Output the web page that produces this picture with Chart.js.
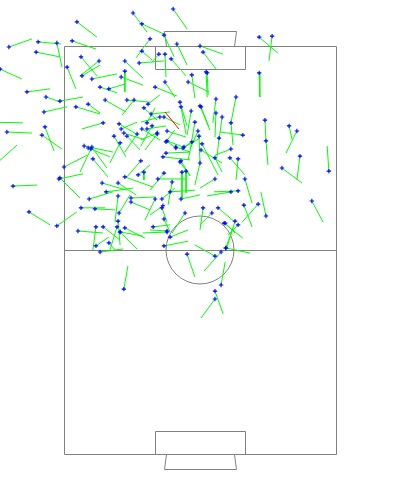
<!DOCTYPE html>
<html>
<head>
<meta charset="utf-8">
<script src="https://cdn.jsdelivr.net/npm/chart.js@4/dist/chart.umd.min.js"></script>
<style>
html,body{margin:0;padding:0;background:#fff;}
#wrap{width:400px;height:500px;position:relative;}
</style>
</head>
<body>
<div id="wrap"><canvas id="c"></canvas></div>
<script>
// Pitch coordinates: x across (0-80), y along (0 = bottom goal line, 120 = top goal line)
const passStartX = [20.3,32.1,22.9,3.8,29.4,33.2,40.0,57.4,61.2,25.3,2.4,-7.6,-2.1,-16.2,-8.2,-18.8,-10.9,-5.3,-1.2,-5.9,-21.2,-16.8,-5.6,-6.5,-20.0,0.0,-1.5,-15.0,-10.3,-2.1,-1.2,
22.9,27.9,29.7,31.5,40.9,57.4,41.8,37.6,42.1,36.5,29.7,26.8,44.7,50.6,5.0,10.3,17.9,22.1,0.9,17.9,16.8,5.3,8.2,10.6,13.2,7.1,3.5,12.1,18.5,20.6,24.7,23.5,25.6,29.4,34.1,34.4,40.3,37.4,40.0,44.7,46.5,38.5,
49.1,52.6,59.1,59.4,66.2,68.5,69.4,64.1,77.9,72.9,45.6,49.1,48.8,51.2,44.4,53.2,51.2,49.1,57.1,52.9,59.4,40.9,43.5,45.3,50.3,51.2,47.1,47.6,
11.5,16.2,14.7,16.5,16.8,17.6,18.5,21.5,22.9,24.4,25.9,24.4,27.4,30.3,32.9,35.0,37.6,39.7,30.0,29.1,34.1,5.9,7.1,8.2,7.9,8.5,22.6,23.5,29.4,17.9,11.2,15.9,27.6,31.8,34.7,35.9,12.4,7.4,15.9,19.7,19.7,26.8,28.8,31.2,34.4,5.0,9.1,16.2,28.8,29.1,35.6,
15.9,29.4,26.2,30.3,4.1,9.4,11.5,15.6,17.9,13.2,9.4,10.6,16.5,16.5,30.3,31.2,29.4,44.4,46.2,47.6,36.2,17.6,46.2,44.4,44.4,30.0,32.9,35.3,40.3,40.6,40.0,44.4,34.4,47.4,21.8,30.3,27.4,39.4,28.2];
const passStartY = [129.7,130.9,126.5,127.1,123.2,120.6,120.0,122.6,122.9,122.1,121.5,121.2,120.9,119.7,118.2,113.2,106.5,105.0,103.8,100.6,97.6,94.7,96.2,93.8,85.3,84.4,80.9,78.8,71.2,67.1,81.2,
118.5,117.6,117.6,116.2,118.2,112.1,112.4,111.5,112.1,109.4,109.4,107.9,104.4,105.0,116.8,115.6,115.6,115.0,113.8,112.6,110.9,111.2,110.3,107.9,107.4,102.9,102.1,104.1,104.1,104.1,102.9,101.8,100.0,99.1,103.5,102.1,102.1,100.9,102.4,100.3,99.1,97.6,
97.4,93.8,98.2,92.1,96.5,95.0,87.6,84.1,83.2,74.4,92.9,89.7,87.1,86.8,80.9,80.9,77.4,77.1,73.5,73.2,70.0,72.4,70.9,72.4,68.5,67.4,67.9,60.6,
97.4,97.1,93.5,91.5,95.6,94.4,93.5,94.1,95.6,97.4,96.5,95.6,94.1,92.1,90.0,90.0,91.8,93.5,88.5,87.4,85.9,90.6,90.0,90.3,89.7,86.8,86.2,82.9,82.6,81.5,79.7,79.7,80.9,80.0,82.9,83.2,77.1,75.0,75.9,75.3,74.1,75.0,75.0,77.1,75.0,72.4,72.1,70.9,72.4,73.0,70.9,
68.5,69.1,66.8,65.6,65.6,66.8,66.8,66.8,66.5,62.1,61.2,59.4,65.3,65.3,65.3,63.8,61.2,58.2,59.4,60.6,58.8,48.5,49.7,47.9,45.6,91.8,90.3,90.3,89.4,91.2,85.6,87.1,86.2,67.9,82.1,95.0,94.4,95.0,99.1];
const passEndX = [24.4,36.2,29.4,9.7,32.4,36.2,46.8,62.9,60.3,21.2,9.4,-0.9,-0.6,-9.4,-1.2,-12.4,-4.1,-0.9,5.6,0.9,-12.1,-9.4,-2.9,-0.6,-13.8,6.8,5.6,-7.9,-4.1,3.8,4.7,
25.9,25.9,30.0,35.9,45.0,57.6,42.1,38.5,42.4,42.6,32.6,33.2,43.8,49.1,9.7,4.7,23.2,29.4,3.5,17.9,23.2,10.6,15.6,15.6,17.9,10.6,10.6,18.2,25.3,17.1,28.2,27.4,31.2,34.1,36.2,35.9,42.6,36.2,42.9,44.4,45.6,37.6,
49.7,45.9,59.4,60.0,67.1,65.3,68.5,70.0,77.4,76.2,45.0,44.4,53.2,50.6,40.0,55.3,44.1,42.1,52.4,55.3,57.9,40.0,40.0,50.3,47.9,48.2,52.6,49.7,
5.3,21.8,18.2,13.5,21.5,23.8,22.4,17.9,28.2,26.8,22.6,30.0,23.8,35.0,29.7,40.0,36.5,40.0,37.1,37.1,37.1,14.4,13.5,12.6,4.7,12.9,18.5,23.5,25.3,26.2,18.5,21.2,35.6,30.6,34.7,35.9,20.3,14.4,15.0,26.8,25.3,23.8,32.6,38.5,40.0,12.1,15.0,19.4,30.3,25.3,31.8,
16.5,31.2,31.2,25.3,11.5,8.5,16.5,13.5,23.8,15.0,13.2,17.4,21.5,23.2,23.2,36.5,36.5,38.5,41.2,54.7,38.5,18.8,47.4,46.8,40.3,32.6,37.1,38.5,46.5,45.3,38.5,46.5,37.1,50.3,25.3,35.9,22.6,37.1,22.6];
const passEndY = [124.1,125.0,123.5,122.6,116.8,114.4,117.6,117.9,115.6,116.5,119.1,120.6,113.8,122.1,116.8,110.3,107.4,103.5,105.0,102.1,97.4,94.4,89.1,89.7,90.9,87.9,82.4,79.1,67.4,71.2,75.3,
115.9,115.3,110.9,111.2,112.9,105.0,105.0,104.7,105.6,106.5,105.0,105.3,97.4,97.4,111.2,111.2,110.6,115.6,107.4,106.5,108.5,114.4,111.8,106.2,108.8,100.3,100.0,100.6,103.5,99.7,105.6,98.2,100.6,96.8,96.5,94.1,96.2,93.8,95.3,93.2,92.4,92.4,
90.9,94.7,92.4,85.0,92.4,88.5,80.6,79.7,90.6,68.2,87.4,87.9,82.1,80.6,78.2,73.8,77.1,75.9,68.2,66.8,77.1,65.9,67.4,68.2,60.6,64.4,63.5,66.5,
95.6,93.8,87.4,85.6,97.6,92.4,89.4,88.8,92.4,101.8,90.6,96.5,89.4,90.3,92.4,92.9,86.5,85.9,88.8,86.5,81.8,88.8,87.4,84.1,82.9,81.5,81.5,80.6,77.6,78.5,77.6,76.2,80.9,73.2,75.3,76.8,78.2,77.1,68.2,75.6,71.8,68.8,78.2,77.6,76.2,72.4,71.8,76.2,68.2,70.3,65.0,
61.5,65.3,67.4,65.9,65.0,60.0,62.9,60.0,63.5,60.0,63.8,60.3,60.3,64.1,65.0,65.9,62.6,61.5,53.8,59.1,52.1,55.3,56.5,41.2,40.0,95.3,88.8,92.4,85.6,82.1,79.1,82.9,81.8,65.0,85.0,93.2,92.4,89.7,97.6];

// highlighted (red) pass
const redStartX = [29.7];
const redStartY = [100.6];
const redEndX = [33.8];
const redEndY = [95.6];

// pitch dimensions (units)
const PITCH_W = 80, PITCH_L = 120;
const BOX_X0 = 26.8, BOX_X1 = 53.2, BOX_D = 6.8;
const GOAL_X0 = 30, GOAL_X1 = 50, GOAL_BX0 = 29.4, GOAL_BX1 = 50.6, GOAL_D = 4.4;
const CIRCLE_R = 10;

const linePts = [];
const markerPts = [];
for (let i = 0; i < passStartX.length; i++) {
  linePts.push({x: passStartX[i], y: passStartY[i]});
  linePts.push({x: passEndX[i], y: passEndY[i]});
  linePts.push({x: passEndX[i], y: null});
  markerPts.push({x: passStartX[i], y: passStartY[i]});
}
const redPts = [];
for (let i = 0; i < redStartX.length; i++) {
  redPts.push({x: redStartX[i], y: redStartY[i]});
  redPts.push({x: redEndX[i], y: redEndY[i]});
  redPts.push({x: redEndX[i], y: null});
}

const pitchPlugin = {
  id: 'pitch',
  beforeDatasetsDraw(chart) {
    const ctx = chart.ctx, xs = chart.scales.x, ys = chart.scales.y;
    const X = v => Math.round(xs.getPixelForValue(v)) + 0.5;
    const Y = v => Math.round(ys.getPixelForValue(v)) + 0.5;
    ctx.save();
    ctx.strokeStyle = '#808080';
    ctx.lineWidth = 1;
    const poly = (pts, close) => {
      ctx.beginPath();
      pts.forEach((p, i) => i ? ctx.lineTo(X(p[0]), Y(p[1])) : ctx.moveTo(X(p[0]), Y(p[1])));
      if (close) ctx.closePath();
      ctx.stroke();
    };
    poly([[0,0],[PITCH_W,0],[PITCH_W,PITCH_L],[0,PITCH_L]], true);
    poly([[0,PITCH_L/2],[PITCH_W,PITCH_L/2]]);
    poly([[BOX_X0,PITCH_L],[BOX_X0,PITCH_L-BOX_D],[BOX_X1,PITCH_L-BOX_D],[BOX_X1,PITCH_L]]);
    poly([[BOX_X0,0],[BOX_X0,BOX_D],[BOX_X1,BOX_D],[BOX_X1,0]]);
    poly([[GOAL_X0,PITCH_L],[GOAL_BX0,PITCH_L+GOAL_D],[GOAL_BX1,PITCH_L+GOAL_D],[GOAL_X1,PITCH_L]]);
    poly([[GOAL_X0,0],[GOAL_BX0,-GOAL_D],[GOAL_BX1,-GOAL_D],[GOAL_X1,0]]);
    const cx = xs.getPixelForValue(PITCH_W/2), cy = ys.getPixelForValue(PITCH_L/2);
    const r = Math.abs(xs.getPixelForValue(CIRCLE_R) - xs.getPixelForValue(0));
    ctx.beginPath();
    ctx.arc(cx, cy, r, 0, Math.PI*2);
    ctx.stroke();
    ctx.restore();
  }
};

new Chart(document.getElementById('c'), {
  type: 'scatter',
  data: {
    datasets: [
      {data: markerPts, pointStyle: 'cross', pointRadius: 2.2, borderColor: '#0000ff', backgroundColor: '#0000ff', pointBorderWidth: 1.1, showLine: false, clip: false},
      {data: redPts, showLine: true, pointRadius: 0, borderColor: '#ff0000', borderWidth: 1, spanGaps: false, clip: false},
      {data: linePts, showLine: true, pointRadius: 0, borderColor: '#00ff00', borderWidth: 1, spanGaps: false, clip: false}
    ]
  },
  options: {
    responsive: true,
    maintainAspectRatio: false,
    animation: false,
    events: [],
    layout: {padding: 0, autoPadding: false},
    plugins: {legend: {display: false}, tooltip: {enabled: false}},
    scales: {
      x: {type: 'linear', display: false, min: -64/3.4, max: 336/3.4},
      y: {type: 'linear', display: false, min: -46/3.4, max: 454/3.4}
    },
    elements: {line: {tension: 0}}
  },
  plugins: [pitchPlugin]
});
</script>
</body>
</html>
